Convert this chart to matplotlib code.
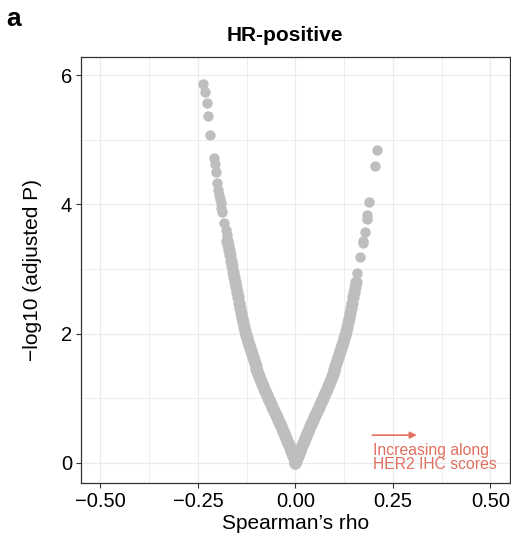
import matplotlib
matplotlib.use("Agg")
import matplotlib.pyplot as plt
from matplotlib.ticker import MultipleLocator

plt.rcParams["font.family"] = ["Liberation Sans", "DejaVu Sans"]

# dense part of the V (|rho|, -log10 adjusted P)
band_abs_rho = [0.0000, 0.0025, 0.0050, 0.0075, 0.0100, 0.0125, 0.0150, 0.0175, 0.0200, 0.0225,
                0.0250, 0.0275, 0.0300, 0.0325, 0.0350, 0.0375, 0.0400, 0.0425, 0.0450, 0.0475,
                0.0500, 0.0525, 0.0550, 0.0575, 0.0600, 0.0625, 0.0650, 0.0675, 0.0700, 0.0725,
                0.0750, 0.0775, 0.0800, 0.0825, 0.0850, 0.0875, 0.0900, 0.0925, 0.0950, 0.0975,
                0.1000, 0.1025, 0.1050, 0.1075, 0.1100, 0.1125, 0.1150, 0.1175, 0.1200, 0.1225,
                0.1250, 0.1275, 0.1300, 0.1325, 0.1350, 0.1375, 0.1400, 0.1425, 0.1450, 0.1475,
                0.1500, 0.1525, 0.1550, 0.1575, 0.1600, 0.1625, 0.1650, 0.1675, 0.1700, 0.1725,
                0.1750]
band_logp = [0.00, 0.035, 0.07, 0.11, 0.15, 0.19, 0.23, 0.27, 0.31, 0.345,
             0.38, 0.42, 0.46, 0.495, 0.53, 0.565, 0.60, 0.635, 0.67, 0.705,
             0.74, 0.77, 0.80, 0.835, 0.87, 0.905, 0.94, 0.975, 1.01, 1.045,
             1.08, 1.115, 1.15, 1.185, 1.22, 1.26, 1.30, 1.34, 1.38, 1.42,
             1.46, 1.505, 1.55, 1.595, 1.64, 1.685, 1.73, 1.775, 1.82, 1.87,
             1.93, 1.98, 2.04, 2.11, 2.18, 2.25, 2.32, 2.40, 2.48, 2.56,
             2.64, 2.72, 2.80, 2.88, 2.96, 3.05, 3.13, 3.22, 3.30, 3.37,
             3.43]
right_band_len = 63  # right branch stays dense only up to ~2.8

# sparse points above the band
left_top_rho = [-0.176, -0.178, -0.1825, -0.188, -0.190, -0.192, -0.194, -0.196, -0.198,
                -0.200, -0.204, -0.206, -0.210, -0.218, -0.2235, -0.228, -0.233, -0.236]
left_top_logp = [3.52, 3.61, 3.71, 3.89, 3.95, 4.02, 4.08, 4.15, 4.22,
                 4.33, 4.50, 4.62, 4.72, 5.08, 5.36, 5.57, 5.74, 5.86]
right_top_rho = [0.159, 0.165, 0.172, 0.173, 0.178, 0.183, 0.184, 0.189, 0.204, 0.210]
right_top_logp = [2.94, 3.19, 3.43, 3.40, 3.58, 3.77, 3.84, 4.04, 4.59, 4.84]

x_ticks = [-0.50, -0.25, 0.00, 0.25, 0.50]
y_ticks = [0, 2, 4, 6]

band_rho = [-r for r in band_abs_rho] + band_abs_rho[:right_band_len]
band_y = band_logp + band_logp[:right_band_len]

fig = plt.figure(figsize=(5.11, 5.42), dpi=100)
ax = fig.add_axes([0.1585, 0.1089, 0.8395, 0.7859])

ax.scatter(band_rho, band_y, s=78, color="#BEBEBE", linewidths=0, zorder=3)
ax.scatter(left_top_rho + right_top_rho, left_top_logp + right_top_logp, s=56,
           color="#BEBEBE", linewidths=0, zorder=3)

ax.set_xlim(-0.55, 0.55)
ax.set_ylim(-0.31, 6.28)
ax.set_xticks(x_ticks)
ax.set_xticklabels([f"{t:.2f}".replace("-", "\u2212") for t in x_ticks])
ax.set_yticks(y_ticks)
ax.xaxis.set_minor_locator(MultipleLocator(0.125))
ax.yaxis.set_minor_locator(MultipleLocator(1))

ax.grid(True, which="major", color="#EBEBEB", linewidth=0.9, zorder=0)
ax.grid(True, which="minor", color="#EBEBEB", linewidth=0.6, zorder=0)
ax.set_axisbelow(True)
for sp in ax.spines.values():
    sp.set_color("#333333")
    sp.set_linewidth(0.9)
ax.tick_params(which="major", direction="out", length=3.5, width=0.8, color="#333333",
               labelsize=14.5, labelcolor="black", pad=3)
ax.tick_params(which="minor", length=0)

ax.set_xlabel("Spearman\u2019s rho", fontsize=15)
ax.set_ylabel("\u2212log10 (adjusted P)", fontsize=15)
ax.xaxis.set_label_coords(0.5, -0.072)
ax.yaxis.set_label_coords(-0.091, 0.5)

ax.annotate("", xy=(0.311, 0.43), xytext=(0.197, 0.43),
            arrowprops=dict(arrowstyle="-|>", color="#E07060", lw=1.2,
                            mutation_scale=10, shrinkA=0, shrinkB=0))
ax.text(0.199, 0.31, "Increasing along\nHER2 IHC scores", color="#E07060",
        fontsize=11.3, ha="left", va="top", linespacing=0.95)

fig.text(0.558, 0.935, "HR-positive", fontsize=15, fontweight="bold",
         ha="center", va="center")
fig.text(0.012, 0.965, "a", fontsize=19, fontweight="bold", ha="left", va="center")

fig.savefig("out.png", dpi=100)
